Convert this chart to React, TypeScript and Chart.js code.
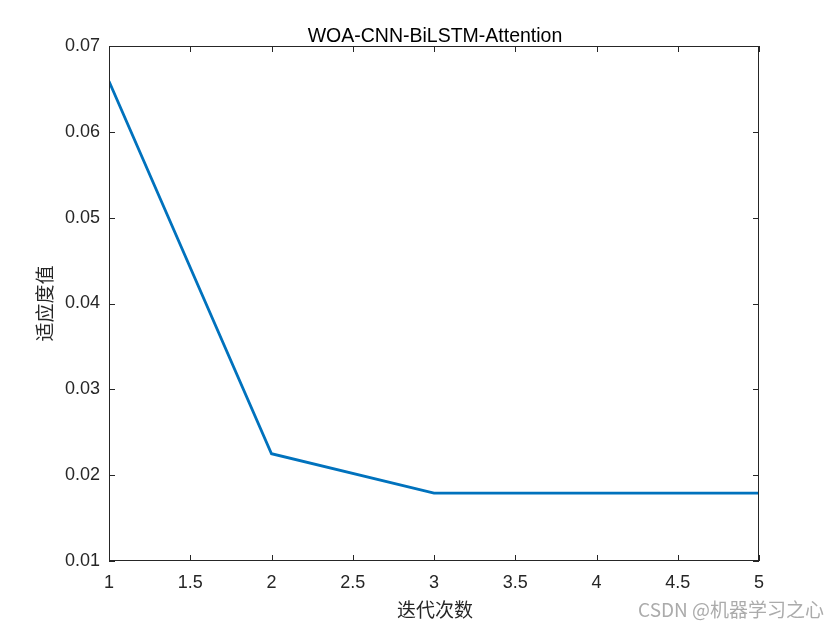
import React, { useEffect, useRef } from "react";
import { Chart, registerables } from "chart.js";

Chart.register(...registerables);

const iterations = [1, 2, 3, 4, 5];
const fitness = [0.0659, 0.0225, 0.0179, 0.0179, 0.0179];
const yTicks = [0.01, 0.02, 0.03, 0.04, 0.05, 0.06, 0.07];
const xTicks = [1, 1.5, 2, 2.5, 3, 3.5, 4, 4.5, 5];
const titleText = "WOA-CNN-BiLSTM-Attention";
const xLabel = "迭代次数";
const yLabel = "适应度值";
const watermark = "CSDN @机器学习之心";

const AXIS = "#262626";

const decor = {
  id: "decor",
  afterDraw(chart: any) {
    const { ctx, chartArea: a, scales } = chart;
    const x = scales.x, y = scales.y;
    ctx.save();
    ctx.strokeStyle = AXIS;
    ctx.lineWidth = 1;
    ctx.strokeRect(a.left + 0.5, a.top + 0.5, a.right - a.left - 1, a.bottom - a.top - 1);
    const tl = 6;
    ctx.beginPath();
    yTicks.forEach((v) => {
      const py = Math.round(y.getPixelForValue(v)) + 0.5;
      ctx.moveTo(a.left, py); ctx.lineTo(a.left + tl, py);
      ctx.moveTo(a.right, py); ctx.lineTo(a.right - tl, py);
    });
    xTicks.forEach((v) => {
      const px = Math.round(x.getPixelForValue(v)) + 0.5;
      ctx.moveTo(px, a.bottom); ctx.lineTo(px, a.bottom - tl);
      ctx.moveTo(px, a.top); ctx.lineTo(px, a.top + tl);
    });
    ctx.stroke();

    const cx = (a.left + a.right) / 2;
    ctx.fillStyle = "#000";
    ctx.textAlign = "center";
    ctx.textBaseline = "alphabetic";
    ctx.font = "19.5px 'Liberation Sans', Arial, sans-serif";
    ctx.fillText(titleText, cx + 1, 41.5);

    ctx.textBaseline = "middle";
    ctx.fillStyle = AXIS;
    ctx.font = "19px 'Noto Sans CJK SC', sans-serif";
    ctx.fillText(xLabel, cx + 1, 610);

    ctx.save();
    ctx.translate(45, (a.top + a.bottom) / 2);
    ctx.rotate(-Math.PI / 2);
    ctx.fillText(yLabel, 0, 0);
    ctx.restore();

    ctx.fillStyle = "#ababab";
    ctx.textAlign = "right";
    ctx.font = "19px 'Noto Sans CJK SC', sans-serif";
    ctx.fillText(watermark, 824, 610);
    ctx.restore();
  },
};

export default function App() {
  const ref = useRef<HTMLCanvasElement>(null);
  useEffect(() => {
    document.body.style.margin = "0";
    const chart = new Chart(ref.current as HTMLCanvasElement, {
      type: "line",
      data: {
        datasets: [
          {
            data: iterations.map((v, i) => ({ x: v, y: fitness[i] })),
            borderColor: "#0072BD",
            borderWidth: 2.8,
            pointRadius: 0,
            fill: false,
            tension: 0,
          },
        ],
      },
      options: {
        animation: false,
        responsive: false,
        layout: { padding: { top: 46, right: 81, left: 0, bottom: 0 } },
        plugins: { legend: { display: false }, title: { display: false }, tooltip: { enabled: false } },
        scales: {
          x: {
            type: "linear",
            min: 1,
            max: 5,
            afterFit: (s: any) => { s.height = 69; },
            afterBuildTicks: (s: any) => { s.ticks = xTicks.map((v) => ({ value: v })); },
            grid: { display: false, drawTicks: false },
            border: { display: false },
            ticks: {
              padding: 11,
              color: AXIS,
              font: { family: "'Liberation Sans', Arial, sans-serif", size: 18 },
              callback: (v: any) => String(v),
              maxRotation: 0,
              autoSkip: false,
            },
          },
          y: {
            type: "linear",
            min: 0.01,
            max: 0.07,
            afterFit: (s: any) => { s.width = 109; },
            afterBuildTicks: (s: any) => { s.ticks = yTicks.map((v) => ({ value: v })); },
            grid: { display: false, drawTicks: false },
            border: { display: false },
            ticks: {
              padding: 9,
              color: AXIS,
              font: { family: "'Liberation Sans', Arial, sans-serif", size: 18 },
              callback: (v: any) => Number(v).toFixed(2),
              autoSkip: false,
            },
          },
        },
      },
      plugins: [decor],
    });
    return () => chart.destroy();
  }, []);
  return <canvas ref={ref} width={840} height={630} style={{ display: "block" }} />;
}
